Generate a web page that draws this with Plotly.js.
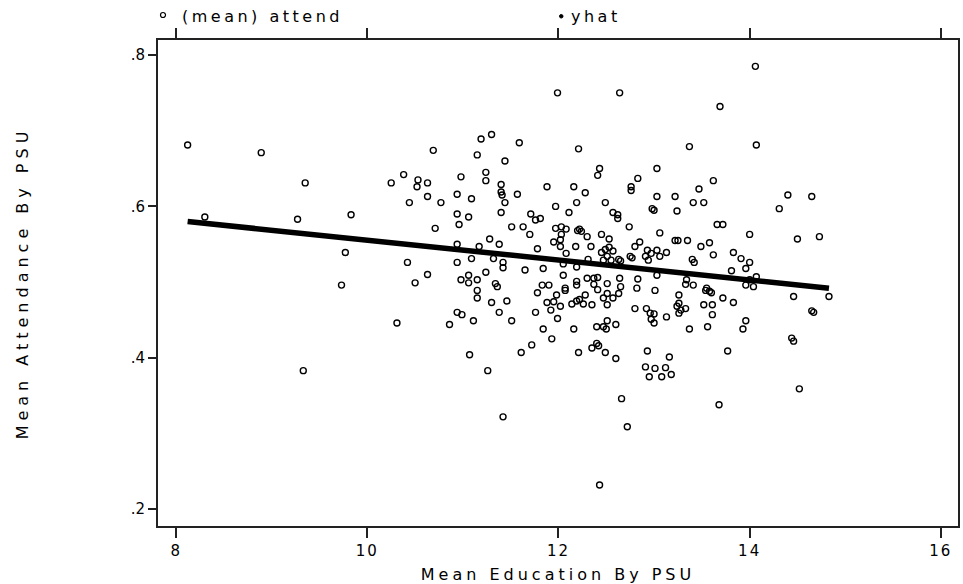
<!DOCTYPE html>
<html>
<head>
<meta charset="utf-8">
<script src="https://cdn.plot.ly/plotly-3.0.1.min.js"></script>
<style>
  html, body { margin: 0; padding: 0; background: #fff; }
  #chart { width: 963px; height: 584px; }
  .xtitle { letter-spacing: 4px; }
  .ytitle { letter-spacing: 5px; }
  .annotation-text { letter-spacing: 3.5px; }
  .xtick text { letter-spacing: 2px; }
</style>
</head>
<body>
<div id="chart"></div>
<script>
// Mean education by PSU (x) and mean attendance by PSU (y)
const educ = [
  8.12, 8.89, 9.35, 8.30, 9.27, 9.83, 10.25, 10.38, 10.53, 10.52,
  10.63, 10.44, 9.77, 10.42, 9.73, 10.50, 10.31, 9.33, 11.99, 11.19,
  11.30, 11.59, 10.69, 11.15, 11.44, 12.21, 10.98, 11.24, 11.24, 10.63,
  10.77, 10.94, 11.09, 11.40, 11.40, 11.41, 11.44, 11.57, 11.88, 12.16,
  12.19, 11.97, 12.11, 10.94, 11.06, 10.96, 11.40, 11.71, 11.76, 11.81,
  11.51, 11.63, 11.70, 10.71, 11.97, 12.03, 12.08, 12.03, 12.02, 12.20,
  11.28, 11.38, 10.94, 11.17, 11.95, 12.02, 12.08, 11.78, 12.18, 10.94,
  11.09, 11.32, 11.42, 11.42, 11.65, 11.84, 12.05, 12.05, 12.19, 10.63,
  10.98, 11.06, 11.06, 11.15, 11.24, 11.34, 11.36, 11.83, 11.90, 12.07,
  12.19, 11.15, 11.15, 11.30, 11.46, 10.94, 10.99, 10.86, 11.11, 11.38,
  11.51, 11.07, 11.26, 11.42, 11.61, 11.72, 11.76, 11.78, 11.88, 11.92,
  11.95, 11.98, 12.02, 12.07, 11.84, 11.93, 11.99, 12.16, 12.14, 12.19,
  12.21, 12.64, 14.06, 13.69, 13.37, 14.07, 12.43, 12.41, 13.03, 12.83,
  12.76, 12.76, 13.62, 13.47, 12.28, 12.49, 13.03, 13.22, 13.41, 13.52,
  12.98, 13.00, 13.24, 12.57, 12.62, 12.62, 12.74, 13.06, 13.66, 13.72,
  14.00, 12.22, 12.24, 12.30, 12.45, 12.53, 12.34, 12.85, 12.80, 13.22,
  13.25, 13.35, 13.49, 13.58, 13.62, 13.83, 13.91, 14.00, 13.96, 13.81,
  13.40, 13.42, 12.45, 12.49, 12.53, 12.57, 12.51, 12.47, 12.55, 12.93,
  12.91, 12.97, 13.03, 13.06, 13.13, 12.94, 12.75, 12.77, 12.63, 12.65,
  12.31, 12.83, 12.37, 12.30, 12.41, 12.51, 12.64, 12.65, 12.19, 13.03,
  13.34, 13.41, 13.55, 14.00, 14.04, 12.37, 12.82, 13.01, 13.33, 13.58,
  13.60, 13.54, 13.72, 13.83, 13.96, 12.28, 12.22, 12.26, 12.35, 12.47,
  12.51, 12.57, 12.51, 12.80, 12.92, 12.96, 13.00, 12.97, 13.00, 13.13,
  13.26, 13.26, 13.24, 13.28, 13.33, 13.26, 13.52, 13.61, 13.61, 12.40,
  12.47, 12.51, 12.50, 12.60, 13.37, 13.56, 13.96, 13.93, 12.35, 12.40,
  12.42, 12.49, 12.60, 12.93, 13.16, 13.77, 12.91, 13.01, 13.12, 12.95,
  13.08, 13.18, 12.66, 12.72, 13.68, 12.43, 14.40, 14.65, 14.31, 14.50,
  14.73, 14.07, 14.46, 14.83, 14.65, 14.67, 14.44, 14.46, 14.52, 12.63,
  12.41
];
const attend = [
  0.681, 0.671, 0.631, 0.586, 0.583, 0.589, 0.631, 0.642, 0.635, 0.626,
  0.631, 0.605, 0.539, 0.526, 0.496, 0.499, 0.446, 0.383, 0.750, 0.689,
  0.695, 0.684, 0.674, 0.668, 0.660, 0.676, 0.639, 0.645, 0.634, 0.613,
  0.605, 0.616, 0.610, 0.629, 0.619, 0.615, 0.605, 0.616, 0.626, 0.626,
  0.605, 0.600, 0.592, 0.590, 0.586, 0.576, 0.592, 0.590, 0.582, 0.584,
  0.573, 0.573, 0.563, 0.571, 0.571, 0.573, 0.570, 0.563, 0.556, 0.568,
  0.557, 0.550, 0.550, 0.547, 0.553, 0.547, 0.538, 0.544, 0.547, 0.526,
  0.531, 0.531, 0.526, 0.519, 0.516, 0.518, 0.524, 0.509, 0.520, 0.510,
  0.503, 0.509, 0.499, 0.503, 0.513, 0.498, 0.494, 0.496, 0.496, 0.492,
  0.501, 0.489, 0.479, 0.473, 0.475, 0.460, 0.457, 0.444, 0.449, 0.460,
  0.449, 0.404, 0.383, 0.322, 0.407, 0.417, 0.460, 0.486, 0.473, 0.463,
  0.474, 0.483, 0.468, 0.489, 0.438, 0.425, 0.452, 0.438, 0.471, 0.475,
  0.407, 0.750, 0.785, 0.732, 0.679, 0.681, 0.650, 0.641, 0.650, 0.637,
  0.626, 0.621, 0.634, 0.623, 0.618, 0.605, 0.613, 0.613, 0.605, 0.605,
  0.597, 0.595, 0.594, 0.592, 0.589, 0.584, 0.573, 0.565, 0.576, 0.576,
  0.563, 0.570, 0.567, 0.560, 0.563, 0.557, 0.547, 0.553, 0.547, 0.555,
  0.555, 0.555, 0.547, 0.552, 0.536, 0.539, 0.531, 0.526, 0.518, 0.515,
  0.530, 0.526, 0.539, 0.543, 0.546, 0.541, 0.534, 0.529, 0.529, 0.542,
  0.534, 0.538, 0.542, 0.534, 0.539, 0.529, 0.534, 0.532, 0.530, 0.528,
  0.530, 0.504, 0.505, 0.505, 0.506, 0.498, 0.505, 0.494, 0.496, 0.509,
  0.503, 0.496, 0.492, 0.503, 0.494, 0.497, 0.492, 0.489, 0.497, 0.488,
  0.486, 0.489, 0.479, 0.473, 0.496, 0.483, 0.477, 0.471, 0.470, 0.479,
  0.485, 0.479, 0.470, 0.465, 0.465, 0.459, 0.458, 0.451, 0.446, 0.454,
  0.483, 0.472, 0.468, 0.463, 0.465, 0.459, 0.470, 0.470, 0.457, 0.441,
  0.441, 0.449, 0.438, 0.444, 0.438, 0.441, 0.449, 0.438, 0.413, 0.419,
  0.416, 0.407, 0.399, 0.409, 0.401, 0.409, 0.388, 0.386, 0.387, 0.375,
  0.375, 0.378, 0.346, 0.309, 0.338, 0.232, 0.615, 0.613, 0.597, 0.557,
  0.560, 0.507, 0.481, 0.481, 0.462, 0.460, 0.426, 0.422, 0.359, 0.485,
  0.490
];
// Fitted values (yhat) at the extremes of education
const yhatX = [8.12, 14.83];
const yhatY = [0.580, 0.492];

const xTickVals = [8, 10, 12, 14, 16];
const xTickText = ['8', '10', '12', '14', '16'];
const yTickVals = [0.2, 0.4, 0.6, 0.8];
const yTickText = ['.2', '.4', '.6', '.8'];

const legendLabels = ['(mean) attend', 'yhat'];

const FONT = 'DejaVu Sans, Arial, sans-serif';

const traces = [
  {
    type: 'scatter', mode: 'markers', name: legendLabels[0],
    x: educ, y: attend,
    marker: { symbol: 'circle-open', size: 6, color: '#000', line: { width: 1.4, color: '#000' } },
    showlegend: false, hoverinfo: 'x+y'
  },
  {
    type: 'scatter', mode: 'lines', name: legendLabels[1],
    x: yhatX, y: yhatY,
    line: { color: '#000', width: 5.5 },
    showlegend: false
  }
];

const L = 158, R = 958, T = 40, B = 526;
const px2x = p => (p - L) / (R - L);
const px2y = p => (B - p) / (B - T);

const layout = {
  width: 963, height: 584,
  margin: { l: L, r: 963 - R, t: T, b: 584 - B, pad: 0 },
  paper_bgcolor: '#fff', plot_bgcolor: '#fff',
  font: { family: FONT, size: 15, color: '#000' },
  showlegend: false,
  xaxis: {
    range: [7.81, 16.18], tickvals: xTickVals, ticktext: xTickText,
    ticks: 'outside', ticklen: 10, tickwidth: 2, tickcolor: '#222',
    showline: true, linewidth: 2, linecolor: '#222', mirror: 'ticks',
    showgrid: false, zeroline: false,
    tickfont: { family: FONT, size: 15, color: '#000' },
    title: { text: 'Mean Education By PSU', font: { family: FONT, size: 16, color: '#000' }, standoff: 11 },
    automargin: false
  },
  yaxis: {
    range: [0.1778, 0.8198], tickvals: yTickVals, ticktext: yTickText,
    ticks: 'outside', ticklen: 8, tickwidth: 2, tickcolor: '#222',
    showline: true, linewidth: 2, linecolor: '#222', mirror: true,
    showgrid: false, zeroline: false,
    tickfont: { family: FONT, size: 15, color: '#000' },
    title: { text: 'Mean Attendance By PSU', font: { family: FONT, size: 16, color: '#000' }, standoff: 98 },
    automargin: false
  },
  shapes: [
    { type: 'circle', xref: 'paper', yref: 'paper',
      x0: px2x(160.5), x1: px2x(165.5), y0: px2y(17.5), y1: px2y(12.5),
      line: { color: '#000', width: 1.2 }, fillcolor: 'rgba(0,0,0,0)' },
    { type: 'circle', xref: 'paper', yref: 'paper',
      x0: px2x(559.5), x1: px2x(563), y0: px2y(18), y1: px2y(14.5),
      line: { color: '#000', width: 1 }, fillcolor: '#000' }
  ],
  annotations: [
    { xref: 'paper', yref: 'paper', x: px2x(180), y: px2y(17), xanchor: 'left', yanchor: 'middle',
      text: legendLabels[0], showarrow: false, font: { family: FONT, size: 16, color: '#000' } },
    { xref: 'paper', yref: 'paper', x: px2x(569), y: px2y(17), xanchor: 'left', yanchor: 'middle',
      text: legendLabels[1], showarrow: false, font: { family: FONT, size: 16, color: '#000' } }
  ]
};

Plotly.newPlot('chart', traces, layout, { displayModeBar: false, staticPlot: true });
</script>
</body>
</html>
